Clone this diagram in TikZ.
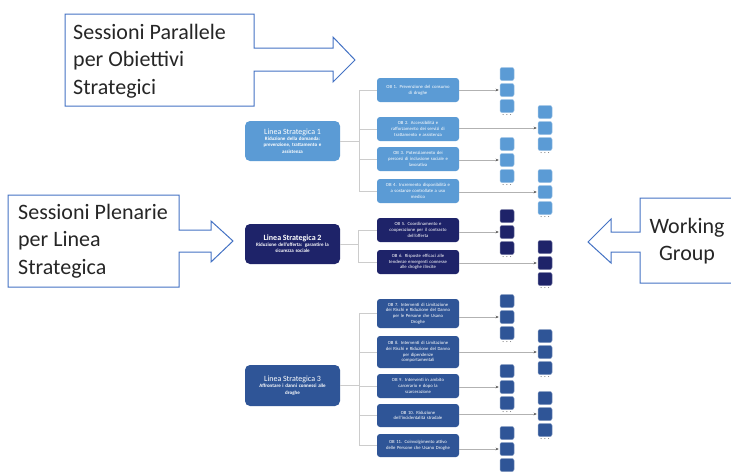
\documentclass[tikz,border=0pt]{standalone}
\usepackage{fontspec}
\setmainfont{Carlito}
\usetikzlibrary{arrows.meta}
\definecolor{lsone}{HTML}{5B9BD5}
\definecolor{lstwo}{RGB}{30,35,105}
\definecolor{lsthree}{HTML}{2F5597}
\definecolor{callblue}{HTML}{4472C4}

\begin{document}
\begin{tikzpicture}[x=1pt,y=-1pt,
  linea/.style={rounded corners=5pt, minimum width=95pt, minimum height=40pt, text width=92pt,
    text=white, align=center, inner sep=1pt, font=\fontsize{5}{6.2}\selectfont\bfseries},
  obox/.style={rounded corners=3pt, minimum width=82pt, minimum height=24pt, text width=80pt,
    text=white, align=center, inner sep=1pt, font=\fontsize{4.7}{5.7}\selectfont},
  sq/.style={rounded corners=2pt, minimum width=14pt, minimum height=13pt, inner sep=0pt, line width=0.5pt},
  puntini/.style={font=\fontsize{6.5}{6.5}\selectfont\bfseries, inner sep=0pt, text=black!65},
  tree/.style={draw=black!20, line width=0.8pt},
  wgline/.style={draw=black!30, line width=0.5pt, -{Stealth[length=3pt,width=2.5pt,black!70]}, shorten >=1pt},
  callout/.style={draw=callblue, line width=1pt},
  calltext/.style={font=\fontsize{22}{27.5}\selectfont, text=black!85, inner sep=0pt}]
  \useasboundingbox (0,0) rectangle (731,472);
  \fill[white] (0,0) rectangle (731,472);

  % riquadri con freccia
  \draw[callout] (65,14) -- (254,14) -- (254,48) -- (333,48) -- (333,37) -- (355,60)
    -- (333,82) -- (333,71) -- (254,71) -- (254,106) -- (65,106) -- cycle;
  \node[calltext, anchor=west, align=left] (par) at (73,61) {Sessioni Parallele\\per Obiettivi\\Strategici};
  \draw[callout] (8,195) -- (179,195) -- (179,230) -- (211,230) -- (211,221) -- (233,241)
    -- (211,262) -- (211,252) -- (179,252) -- (179,287) -- (8,287) -- cycle;
  \node[calltext, anchor=west, align=left] (plen) at (18,241) {Sessioni Plenarie\\per Linea\\Strategica};
  \draw[callout] (731,198) -- (640,198) -- (640,232) -- (611,232) -- (611,219) -- (588,242)
    -- (611,263) -- (611,252) -- (640,252) -- (640,283) -- (731,283);
  \node[calltext, align=center] (wg) at (687,241) {Working\\Group};

  % linee strategiche
  \node[linea, fill=lsone] (ls1) at (292.5,141) {{\fontsize{8}{9}\selectfont\mdseries Linea Strategica 1}\\Riduzione della domanda:\\prevenzione, trattamento e\\assistenza};
  \node[linea, fill=lstwo] (ls2) at (292.5,244) {{\fontsize{8}{9}\selectfont Linea Strategica 2}\\Riduzione dell'offerta: garantire la\\sicurezza sociale};
  \node[linea, fill=lsthree, minimum height=41pt] (ls3) at (292.5,385.5) {{\fontsize{8}{9}\selectfont\mdseries Linea Strategica 3}\\Affrontare i danni connessi alle\\droghe};

  % obiettivi strategici
  \node[obox, fill=lsone] (ob1) at (418,90) {OB 1. Prevenzione del consumo\\di droghe};
  \node[obox, fill=lsone] (ob2) at (418,129) {OB 2. Accessibilità e\\rafforzamento dei servizi di\\trattamento e assistenza};
  \node[obox, fill=lsone] (ob3) at (418,159) {OB 3. Potenziamento dei\\percorsi di inclusione sociale e\\lavorativa};
  \node[obox, fill=lsone] (ob4) at (418,191) {OB 4. Incremento disponibilità e\\a sostanze controllate a uso\\medico};
  \node[obox, fill=lstwo] (ob5) at (418,230) {OB 5. Coordinamento e\\cooperazione per il contrasto\\dell'offerta};
  \node[obox, fill=lstwo] (ob6) at (418,262) {OB 6. Risposte efficaci alle\\tendenze emergenti connesse\\alle droghe illecite};
  \node[obox, fill=lsthree, minimum height=29pt] (ob7) at (418,313.5) {OB 7. Interventi di Limitazione\\dei Rischi e Riduzione del Danno\\per le Persone che Usano\\Droghe};
  \node[obox, fill=lsthree, minimum height=32pt] (ob8) at (418,352) {OB 8. Interventi di Limitazione\\dei Rischi e Riduzione del Danno\\per dipendenze\\comportamentali};
  \node[obox, fill=lsthree] (ob9) at (418,386) {OB 9. Interventi in ambito\\carcerario e dopo la\\scarcerazione};
  \node[obox, fill=lsthree, minimum height=23pt] (ob10) at (418,415.5) {OB 10. Riduzione\\dell'incidentalità stradale};
  \node[obox, fill=lsthree, minimum height=23pt] (ob11) at (418,445.5) {OB 11. Coinvolgimento attivo\\delle Persone che Usano Droghe};

  % rami
  \coordinate (t1) at (359,141);
  \coordinate (t2) at (358,244);
  \coordinate (t3) at (359,385.5);
  \foreach \i in {1,...,4} \draw[tree] (ls1.east) -- (t1) |- (ob\i.west);
  \foreach \i in {5,6} \draw[tree] (ls2.east) -- (t2) |- (ob\i.west);
  \foreach \i in {7,...,11} \draw[tree] (ls3.east) -- (t3) |- (ob\i.west);

  % working group
  \foreach \i/\x/\y/\c in {1/507/90/lsone, 2/545/128/lsone, 3/507/160/lsone, 4/545/192/lsone,
      5/507/232/lstwo, 6/545/263/lstwo, 7/507/317/lsthree, 8/545/352/lsthree,
      9/507/387/lsthree, 10/545/414/lsthree, 11/507/449/lsthree} {
    \node[sq, fill=\c, draw=\c!60!white] (wa\i) at (\x,\y-16) {};
    \node[sq, fill=\c, draw=\c!60!white] (wb\i) at (\x,\y) {};
    \node[sq, fill=\c, draw=\c!60!white] (wc\i) at (\x,\y+16) {};
    \ifnum\i<11 \node[puntini] (d\i) at (\x,\y+25) {. . .}; \fi
    \draw[wgline] (ob\i.east |- wb\i.west) -- (wb\i.west);
  }
\end{tikzpicture}
\end{document}
